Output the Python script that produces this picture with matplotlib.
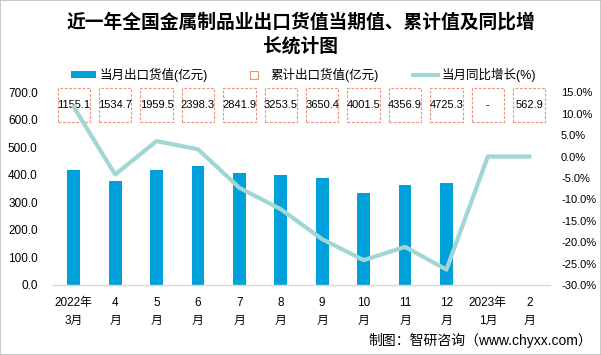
import matplotlib
matplotlib.use("Agg")
import matplotlib.pyplot as plt
from matplotlib.patches import Rectangle, Patch
from matplotlib.lines import Line2D
from matplotlib.ticker import FuncFormatter

plt.rcParams['font.family'] = ['Liberation Sans', 'Noto Sans CJK SC', 'DejaVu Sans']

categories = ["2022年\n3月", "4\n月", "5\n月", "6\n月", "7\n月", "8\n月", "9\n月",
              "10\n月", "11\n月", "12\n月", "2023年\n1月", "2\n月"]
monthly = [418, 379, 418, 432, 407, 400, 389, 334, 363, 371, None, None]
cumulative = ["1155.1", "1534.7", "1959.5", "2398.3", "2841.9", "3253.5", "3650.4",
              "4001.5", "4356.9", "4725.3", "-", "562.9"]
yoy = [11.6, -4.2, 3.6, 1.7, -7.3, -12.3, -19.3, -24.2, -21.1, -26.4, 0.0, 0.0]

bar_color = '#00A1DA'
line_color = '#A0D6D3'
box_color = '#F0907A'

fig = plt.figure(figsize=(6.01, 3.55), dpi=100)
fig.patches.append(Rectangle((0, 0), 1, 1, transform=fig.transFigure, fill=False,
                             edgecolor='#BFBFBF', linewidth=1.2))
ax = fig.add_axes([0.0882, 0.1972, 0.8269, 0.5428])
ax2 = ax.twinx()

x = list(range(len(categories)))
bx = [i for i, v in zip(x, monthly) if v is not None]
bv = [v for v in monthly if v is not None]
ax.bar(bx, bv, width=0.31, color=bar_color, zorder=2)
ax.set_xlim(-0.5, len(categories) - 0.5)
ax.set_ylim(0, 700)
ax.set_yticks([0, 100, 200, 300, 400, 500, 600, 700])
ax.yaxis.set_major_formatter(FuncFormatter(lambda v, p: f"{v:.1f}"))

ax2.plot(x, yoy, color=line_color, linewidth=3.0, zorder=3)
ax2.set_ylim(-30, 15)
ax2.set_yticks(range(-30, 16, 5))
ax2.yaxis.set_major_formatter(FuncFormatter(lambda v, p: f"{v:.1f}%"))

for a in (ax, ax2):
    for s in a.spines.values():
        s.set_visible(False)
    a.tick_params(length=0, labelsize=8.5, colors='#000000')
ax.spines['bottom'].set_visible(True)
ax.spines['bottom'].set_color('#D9D9D9')
ax.spines['bottom'].set_linewidth(1.0)
ax.tick_params(axis='y', pad=11)
ax2.tick_params(axis='y', pad=8, labelsize=8)
ax.set_xticks(x)
ax.set_xticklabels(categories, linespacing=1.55)
ax.tick_params(axis='x', pad=9)

# cumulative boxes
for i, lab in enumerate(cumulative):
    ax.add_patch(Rectangle((i - 0.39, 593), 0.78, 121, fill=False, edgecolor=box_color,
                           linestyle=(0, (2.5, 1.5)), linewidth=0.8, clip_on=False, zorder=4))
    ax.text(i, 654, lab, ha='center', va='center', fontsize=8, zorder=5, clip_on=False)

fig.text(0.5, 0.938, "近一年全国金属制品业出口货值当期值、累计值及同比增", ha='center', va='center',
         fontsize=13.5, fontweight='bold', family=['Noto Sans CJK SC', 'DejaVu Sans'])
fig.text(0.5, 0.870, "长统计图", ha='center', va='center',
         fontsize=13.5, fontweight='bold', family=['Noto Sans CJK SC', 'DejaVu Sans'])

handles = [Patch(facecolor=bar_color, edgecolor='none'),
           Line2D([], [], linestyle='none', marker='s', markersize=6, markerfacecolor='white',
                  markeredgecolor=box_color, markeredgewidth=0.8),
           Line2D([], [], color=line_color, linewidth=3.0)]
labels = ["当月出口货值(亿元)", "累计出口货值(亿元)", "当月同比增长(%)"]
leg = fig.legend(handles, labels, loc='center', bbox_to_anchor=(0.505, 0.789), ncol=3,
                 frameon=False, fontsize=9, columnspacing=2.7, handlelength=2.0,
                 handleheight=0.5, handletextpad=0.3)

fig.text(0.985, 0.042, "制图：智研咨询（www.chyxx.com）", ha='right', va='center', fontsize=10)

fig.savefig("out.png", dpi=100)
